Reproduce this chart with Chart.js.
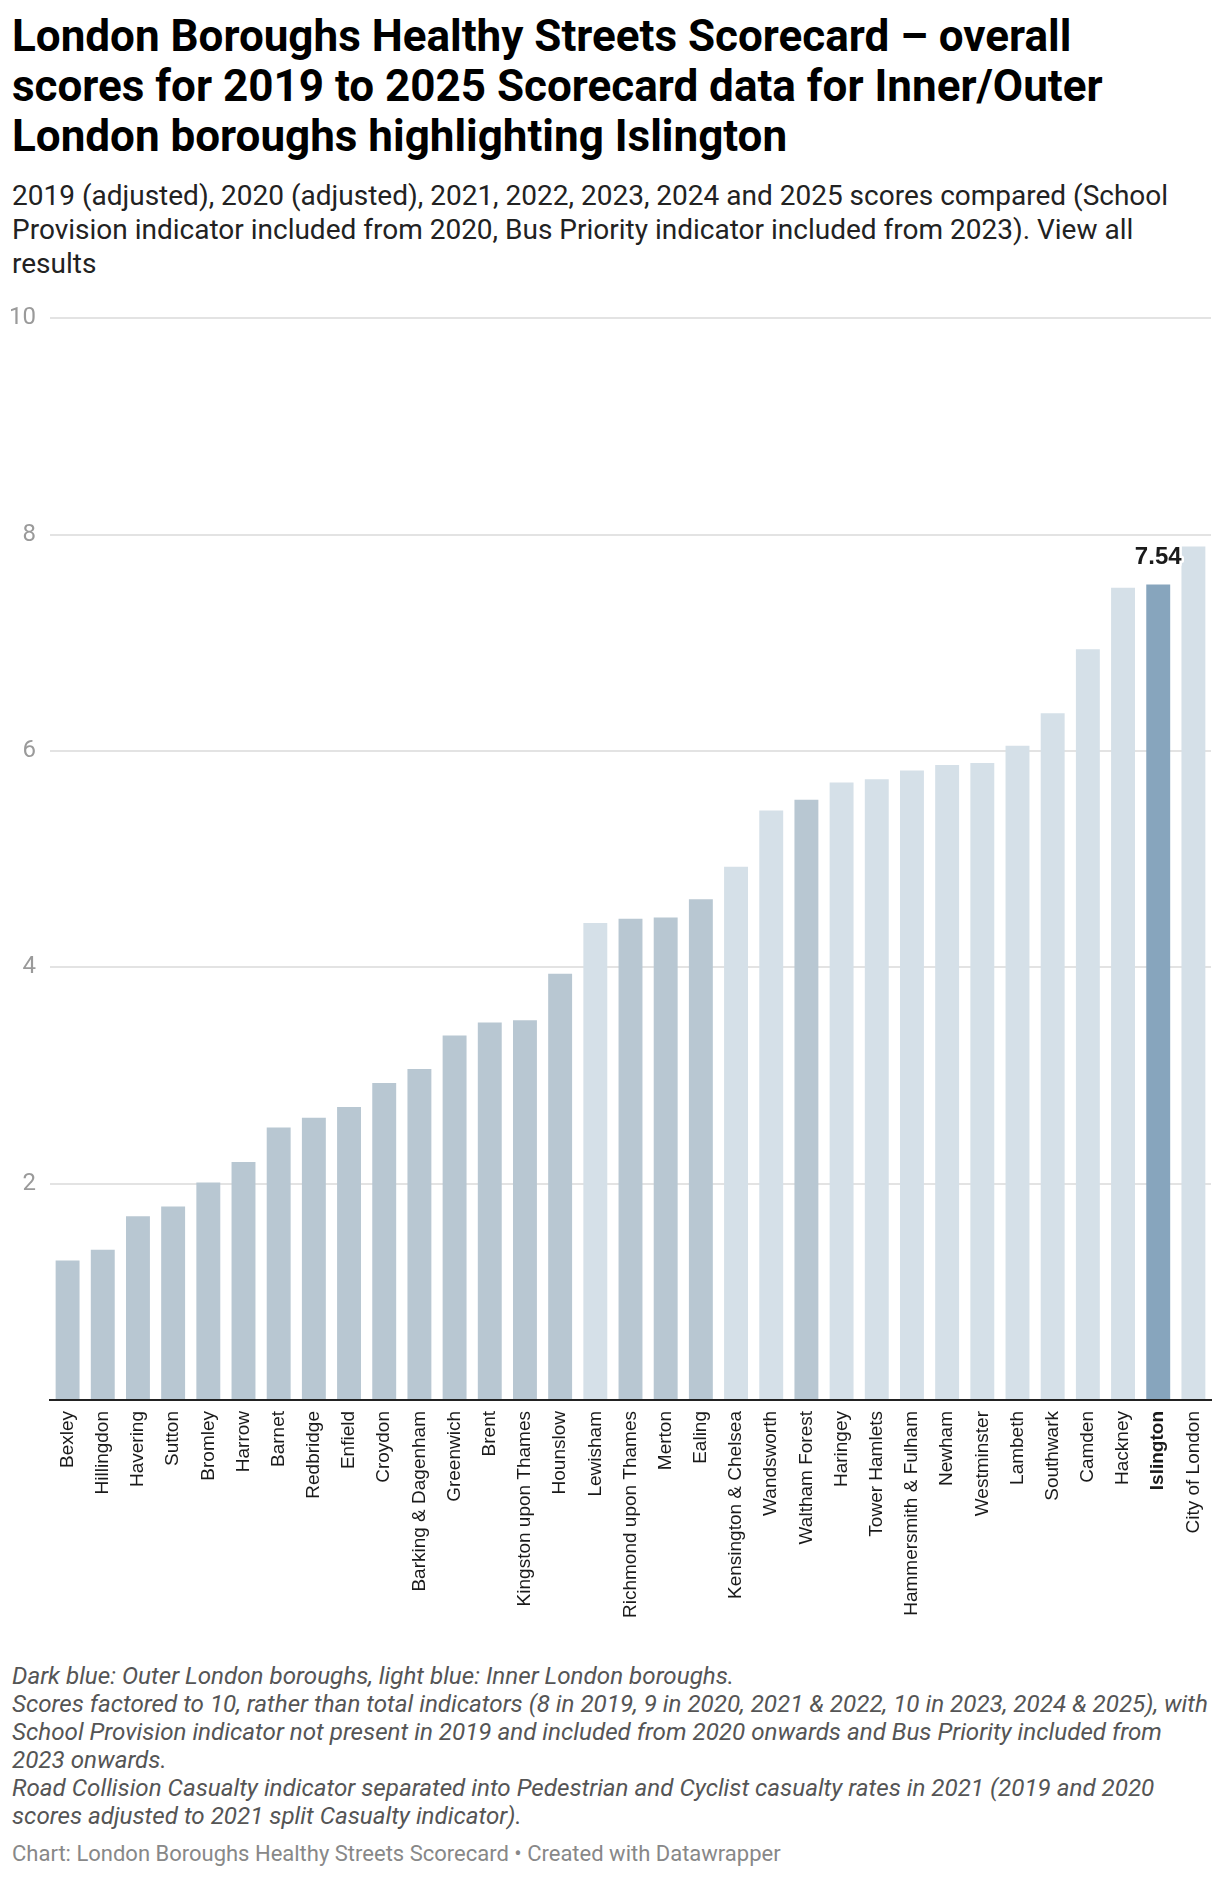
<!DOCTYPE html>
<html>
<head>
<meta charset="utf-8">
<script src="https://cdn.jsdelivr.net/npm/chart.js@4.4.1/dist/chart.umd.min.js"></script>
<style>
  body { margin: 0; background: #fff; width: 1220px; height: 1878px; position: relative; font-family: Roboto, sans-serif; }
  .title { position: absolute; left: 12px; top: 11px; white-space: nowrap; font-size: 44px; line-height: 50px; font-weight: 700; color: #000; }
  .sub { position: absolute; left: 12px; top: 179px; white-space: nowrap; font-size: 28px; line-height: 34px; color: #222; }
  .wrap { position: absolute; left: 0; top: 290px; width: 1220px; height: 1350px; }
  .notes { position: absolute; left: 12px; top: 1662px; white-space: nowrap; font-size: 24.2px; line-height: 28px; font-style: italic; color: #555; }
  .credit { position: absolute; left: 12px; top: 1842px; white-space: nowrap; font-size: 22px; line-height: 24px; color: #888; }
</style>
</head>
<body>
<div class="title">London Boroughs Healthy Streets Scorecard – overall<br>scores for 2019 to 2025 Scorecard data for Inner/Outer<br>London boroughs highlighting Islington</div>
<div class="sub">2019 (adjusted), 2020 (adjusted), 2021, 2022, 2023, 2024 and 2025 scores compared (School<br>Provision indicator included from 2020, Bus Priority indicator included from 2023). View all<br>results</div>
<div class="wrap"><canvas id="barChart"></canvas></div>
<div class="notes">Dark blue: Outer London boroughs, light blue: Inner London boroughs.<br>Scores factored to 10, rather than total indicators (8 in 2019, 9 in 2020, 2021 &amp; 2022, 10 in 2023, 2024 &amp; 2025), with<br>School Provision indicator not present in 2019 and included from 2020 onwards and Bus Priority included from<br>2023 onwards.<br>Road Collision Casualty indicator separated into Pedestrian and Cyclist casualty rates in 2021 (2019 and 2020<br>scores adjusted to 2021 split Casualty indicator).</div>
<div class="credit">Chart: London Boroughs Healthy Streets Scorecard • Created with Datawrapper</div>
<script>
const boroughs = ['Bexley', 'Hillingdon', 'Havering', 'Sutton', 'Bromley', 'Harrow', 'Barnet', 'Redbridge',
    'Enfield', 'Croydon', 'Barking & Dagenham', 'Greenwich', 'Brent', 'Kingston upon Thames', 'Hounslow',
    'Lewisham', 'Richmond upon Thames', 'Merton', 'Ealing', 'Kensington & Chelsea', 'Wandsworth',
    'Waltham Forest', 'Haringey', 'Tower Hamlets', 'Hammersmith & Fulham', 'Newham', 'Westminster',
    'Lambeth', 'Southwark', 'Camden', 'Hackney', 'Islington', 'City of London'];
const scores = [1.29, 1.39, 1.70, 1.79, 2.01, 2.20, 2.52, 2.61, 2.71, 2.93, 3.06, 3.37, 3.49, 3.51, 3.94,
    4.41, 4.45, 4.46, 4.63, 4.93, 5.45, 5.55, 5.71, 5.74, 5.82, 5.87, 5.89, 6.05, 6.35, 6.94, 7.51, 7.54, 7.89];
// 'outer' or 'inner'
const area = ['outer', 'outer', 'outer', 'outer', 'outer', 'outer', 'outer', 'outer', 'outer', 'outer',
    'outer', 'outer', 'outer', 'outer', 'outer', 'inner', 'outer', 'outer', 'outer', 'inner', 'inner',
    'outer', 'inner', 'inner', 'inner', 'inner', 'inner', 'inner', 'inner', 'inner', 'inner', 'inner', 'inner'];
const highlight = 'Islington';
const yTicks = [0, 2, 4, 6, 8, 10];

const colors = boroughs.map((b, i) => {
    if (b === highlight) return '#87a5bd';
    return area[i] === 'outer' ? '#b8c7d2' : '#d5e0e8';
});

// value label above the highlighted bar
const highlightLabel = {
    id: 'highlightLabel',
    afterDatasetsDraw(chart) {
        const i = boroughs.indexOf(highlight);
        const bar = chart.getDatasetMeta(0).data[i];
        const c = chart.ctx;
        c.save();
        c.font = 'bold 24px "Liberation Sans", Arial, sans-serif';
        c.textAlign = 'center';
        c.textBaseline = 'bottom';
        c.lineWidth = 5;
        c.lineJoin = 'round';
        c.strokeStyle = '#fff';
        c.strokeText(scores[i].toFixed(2), bar.x, bar.y - 15);
        c.fillStyle = '#1a1a1a';
        c.fillText(scores[i].toFixed(2), bar.x, bar.y - 15);
        c.restore();
    }
};

const ctx = document.getElementById('barChart').getContext('2d');

new Chart(ctx, {
    type: 'bar',
    data: {
        labels: boroughs,
        datasets: [{
            data: scores,
            backgroundColor: colors,
            borderWidth: 0,
            categoryPercentage: 1,
            barPercentage: 0.68
        }]
    },
    options: {
        responsive: true,
        maintainAspectRatio: false,
        animation: false,
        layout: { padding: { top: 25, right: 9, left: 0, bottom: 0 } },
        plugins: {
            legend: { display: false },
            tooltip: { enabled: false }
        },
        scales: {
            x: {
                grid: { display: false, drawTicks: false },
                border: { display: true, color: '#222', width: 2 },
                afterFit(scale) {
                    scale.height = 240;
                    scale.paddingLeft = 0;
                    scale.paddingRight = 0;
                },
                ticks: {
                    autoSkip: false,
                    minRotation: 90,
                    maxRotation: 90,
                    padding: 11,
                    color: '#1a1a1a',
                    font: (c) => ({
                        family: '"Liberation Sans", Arial, sans-serif',
                        size: 19,
                        weight: boroughs[c.index] === highlight ? 'bold' : 'normal'
                    })
                }
            },
            y: {
                min: 0,
                max: 10,
                afterBuildTicks(scale) { scale.ticks = yTicks.map(v => ({ value: v })); },
                afterFit(scale) { scale.width = 50; },
                border: { display: false },
                grid: {
                    drawTicks: false,
                    color: (c) => c.tick && c.tick.value === 0 ? 'rgba(0,0,0,0)' : '#e3e3e3',
                    lineWidth: 2
                },
                ticks: {
                    padding: 14,
                    color: '#9a9a9a',
                    font: { family: 'Roboto', size: 24 },
                    callback: (v) => v === 0 ? '' : v
                }
            }
        }
    },
    plugins: [highlightLabel]
});
</script>
</body>
</html>
